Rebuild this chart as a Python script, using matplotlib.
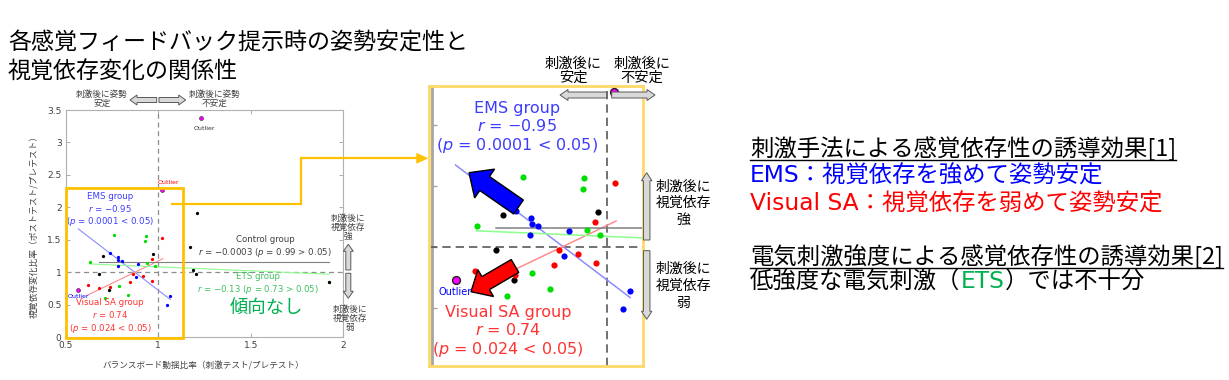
import matplotlib
matplotlib.use('Agg')
import matplotlib.pyplot as plt
from matplotlib.patches import FancyArrow, Rectangle

plt.rcParams['font.family'] = ['DejaVu Sans', 'Noto Sans CJK JP']
plt.rcParams['mathtext.fontset'] = 'dejavusans'

# ---------------- data ----------------
ems_x = [0.740, 0.784, 0.785, 0.802, 0.781, 0.892, 0.878, 1.065, 1.046]
ems_y = [1.294, 1.237, 1.188, 1.171, 1.094, 1.127, 0.926, 0.636, 0.493]

vsa_x = [1.022, 0.966, 0.862, 0.916, 0.968, 0.849, 0.622, 0.680, 0.738]
vsa_y = [1.524, 1.201, 0.975, 0.939, 0.867, 0.847, 0.800, 0.764, 0.770]

ets_x = [0.760, 0.934, 0.930, 0.630, 0.942, 0.980, 0.786, 0.838, 0.715, 1.924]
ets_y = [1.572, 1.565, 1.476, 1.167, 1.138, 1.094, 0.786, 0.652, 0.599, 0.857]

ctrl_x = [1.208, 1.170, 1.188, 1.206, 1.924, 0.974, 0.702, 0.682, 0.734]
ctrl_y = [1.914, 1.385, 1.031, 0.970, 0.857, 1.283, 1.257, 0.970, 0.723]

outlier_x = [1.229, 1.019, 0.568]
outlier_y = [3.381, 2.268, 0.723]

# regression line end points
ems_fit_x = [0.568, 1.065]
ems_fit_y = [1.669, 0.583]
vsa_fit_x = [0.615, 1.025]
vsa_fit_y = [0.645, 1.210]
ctrl_fit_x = [0.682, 1.924]
ctrl_fit_y = [1.155, 1.155]
ets_fit_x = [0.628, 1.924]
ets_fit_y = [1.130, 0.972]

x_ticks = [0.5, 1, 1.5, 2]
y_ticks = [0, 0.5, 1, 1.5, 2, 2.5, 3, 3.5]
zoom_ticks = [0.5, 1, 1.5, 2]

# ---------------- colours ----------------
C_BLUE = '#0000ff'
C_RED = '#ff0000'
C_GREEN = '#00dd00'
C_MAG = '#ff00ff'
C_ORANGE = '#FFC000'
C_ORANGE_L = '#FFD966'
C_EMS_T = '#3c3cff'
C_VSA_T = '#ff3333'
C_ETS_T = '#40c060'
C_CTRL_T = '#404040'
C_NOTREND = '#00b050'

W, H = 1229, 380
fig = plt.figure(figsize=(W / 100, H / 100), dpi=100)


def px_axes(l, t, r, b, **kw):
    return fig.add_axes([l / W, 1 - b / H, (r - l) / W, (b - t) / H], **kw)


def draw_data(ax, s, s_out, lw_fit, lw_out):
    ax.plot(ems_fit_x, ems_fit_y, color='#8c8cff', lw=lw_fit, zorder=2)
    ax.plot(vsa_fit_x, vsa_fit_y, color='#ff8c8c', lw=lw_fit, zorder=2)
    ax.plot(ctrl_fit_x, ctrl_fit_y, color='#808080', lw=lw_fit, zorder=2)
    ax.plot(ets_fit_x, ets_fit_y, color='#8cff8c', lw=lw_fit, zorder=2)
    ax.scatter(ets_x, ets_y, s=s, color=C_GREEN, lw=0, zorder=3)
    ax.scatter(ctrl_x, ctrl_y, s=s, color='black', lw=0, zorder=3)
    ax.scatter(vsa_x, vsa_y, s=s, color=C_RED, lw=0, zorder=3)
    ax.scatter(ems_x, ems_y, s=s, color=C_BLUE, lw=0, zorder=3)
    ax.scatter(outlier_x, outlier_y, s=s_out, color=C_MAG, edgecolors='#202020',
               lw=lw_out, zorder=4)


# ---------------- left chart ----------------
ax1 = px_axes(65.7, 110, 343.3, 337.3)
ax1.set_xlim(0.5, 2)
ax1.set_ylim(0, 3.5)
ax1.set_xticks(x_ticks)
ax1.set_xticklabels(['0.5', '1', '1.5', '2'])
ax1.set_yticks(y_ticks)
ax1.set_yticklabels(['0', '0.5', '1', '1.5', '2', '2.5', '3', '3.5'])
ax1.tick_params(direction='in', length=3, width=0.6, color='#a0a0a0',
                labelsize=6.5, labelcolor='#404040', top=True, right=True, pad=3)
for sp in ax1.spines.values():
    sp.set_color('#b0b0b0')
    sp.set_linewidth(0.8)
ax1.axvline(1, color='#8c8c8c', lw=0.9, ls=(0, (4, 3)), zorder=1)
ax1.axhline(1, color='#8c8c8c', lw=0.9, ls=(0, (4, 3)), zorder=1)
draw_data(ax1, 5.5, 8, 0.8, 0.4)

ax1.text(0.739, 1.96, 'EMS group\n$r$ = −0.95\n($p$ = 0.0001 < 0.05)', color=C_EMS_T,
         fontsize=6.2, ha='center', va='center', multialignment='center')
ax1.text(0.739, 0.32, 'Visual SA group\n$r$ = 0.74\n($p$ = 0.024 < 0.05)', color=C_VSA_T,
         fontsize=6.2, ha='center', va='center', multialignment='center')
ax1.text(1.577, 1.39, 'Control group\n$r$ = −0.0003 ($p$ = 0.99 > 0.05)', color=C_CTRL_T,
         fontsize=6.2, ha='center', va='center', multialignment='center')
ax1.text(1.540, 0.817, 'ETS group\n$r$ = −0.13 ($p$ = 0.73 > 0.05)', color=C_ETS_T,
         fontsize=6.2, ha='center', va='center', multialignment='center')
ax1.text(1.586, 0.447, '傾向なし', color=C_NOTREND, fontsize=13.2, ha='center', va='center',
         family=['Noto Sans CJK JP'])
ax1.text(0.568, 0.626, 'Outlier', color=C_BLUE, fontsize=4.5, ha='center', va='center')
ax1.text(1.054, 2.39, 'Outlier', color=C_RED, fontsize=4.5, ha='center', va='center')
ax1.text(1.247, 3.22, 'Outlier', color='#303030', fontsize=4.5, ha='center', va='center')

# ---------------- right (zoomed) chart ----------------
ax2 = px_axes(429, 86, 642.7, 366)
ax2.set_xlim(0.4923, 1.1008)
ax2.set_ylim(0.022, 2.317)
ax2.set_xticks([])
ax2.set_yticks([])
for sp in ax2.spines.values():
    sp.set_color(C_ORANGE_L)
    sp.set_linewidth(2)
ax2.axvline(0.5, color='#a6a6a6', lw=2, zorder=1)
ax2.hlines(zoom_ticks, 0.5, 0.516, color='#a6a6a6', lw=1, zorder=1)
ax2.axvline(1, color='#595959', lw=1.2, ls=(0, (5, 3)), zorder=1)
ax2.axhline(1, color='#595959', lw=1.2, ls=(0, (5, 3)), zorder=1)
draw_data(ax2, 20, 32, 1.1, 1.0)
ax2.text(0.742, 1.973, 'EMS group\n$r$ = −0.95\n($p$ = 0.0001 < 0.05)', color=C_EMS_T,
         fontsize=11.5, ha='center', va='center', multialignment='center', linespacing=1.15)
ax2.text(0.717, 0.303, 'Visual SA group\n$r$ = 0.74\n($p$ = 0.024 < 0.05)', color=C_VSA_T,
         fontsize=11.5, ha='center', va='center', multialignment='center', linespacing=1.15)
ax2.text(0.566, 0.631, 'Outlier', color=C_BLUE, fontsize=7, ha='center', va='center')

# ---------------- overlay (pixel coordinates) ----------------
ov = fig.add_axes([0, 0, 1, 1], zorder=10)
ov.set_xlim(0, W)
ov.set_ylim(H, 0)
ov.axis('off')
ov.patch.set_alpha(0)

CJK = ['Noto Sans CJK JP']
MIX = ['DejaVu Sans', 'Noto Sans CJK JP']

# title
ov.text(8, 43, '各感覚フィードバック提示時の姿勢安定性と', fontsize=16.6, va='center',
        ha='left', family=CJK)
ov.text(8, 72, '視覚依存変化の関係性', fontsize=16.6, va='center', ha='left', family=CJK)

# axis labels of left chart
ov.text(203, 366, 'バランスボード動揺比率（刺激テスト/プレテスト）', fontsize=6.2,
        color='#404040', ha='center', va='center', family=CJK)
ov.text(35, 224, '視覚依存変化比率（ポストテスト/プレテスト）', fontsize=6.3,
        color='#404040', ha='center', va='center', rotation=90, family=CJK)


def gray_arrow(x0, y0, x1, y1, body, head, hlen):
    ov.add_patch(FancyArrow(x0, y0, x1 - x0, y1 - y0, width=body, head_width=head,
                            head_length=hlen, length_includes_head=True,
                            fc='#d9d9d9', ec='#595959', lw=0.7, zorder=5))


# left chart helpers
ov.text(101.7, 99, '刺激後に姿勢\n安定', fontsize=6.2, color='#404040', ha='center',
        va='center', family=CJK, linespacing=1.0)
ov.text(215, 99, '刺激後に姿勢\n不安定', fontsize=6.2, color='#404040', ha='center',
        va='center', family=CJK, linespacing=1.0)
gray_arrow(156.7, 100, 130, 100, 5, 10, 7)
gray_arrow(159, 100, 185.7, 100, 5, 10, 7)
ov.text(348.3, 227.5, '刺激後に\n視覚依存\n強', fontsize=6.2, color='#404040', ha='center',
        va='center', family=CJK, linespacing=1.0)
ov.text(350, 318.5, '刺激後に\n視覚依存\n弱', fontsize=6.2, color='#404040', ha='center',
        va='center', family=CJK, linespacing=1.0)
gray_arrow(348.3, 270, 348.3, 244.3, 5, 10, 7)
gray_arrow(348.3, 273.3, 348.3, 298.3, 5, 10, 7)

# orange box and connector
ov.add_patch(Rectangle((65.7, 187.7), 117, 150.6, fill=False, ec=C_ORANGE, lw=2, zorder=6))
ov.plot([172.3, 300.7, 300.7, 418], [204.3, 204.3, 158.3, 158.3], color=C_ORANGE, lw=1.6,
        solid_joinstyle='miter', zorder=6)
ov.add_patch(FancyArrow(415, 158.3, 13.3, 0, width=1.6, head_width=11, head_length=12,
                        length_includes_head=True, fc=C_ORANGE, ec='none', zorder=6))

# right chart helpers
ov.text(573, 71, '刺激後に\n安定', fontsize=10.3, ha='center', va='center', family=CJK,
        linespacing=1.0)
ov.text(641.7, 71, '刺激後に\n不安定', fontsize=10.3, ha='center', va='center', family=CJK,
        linespacing=1.0)
gray_arrow(606.7, 95, 560, 95, 6, 11, 8)
gray_arrow(611.7, 95, 655, 95, 6, 11, 8)
gray_arrow(646.7, 240, 646.7, 172.7, 6.5, 10.5, 8)
gray_arrow(646.7, 250.7, 646.7, 319.3, 6.5, 10.5, 8)
ov.text(683.3, 203.3, '刺激後に\n視覚依存\n強', fontsize=10, ha='center', va='center',
        family=CJK, linespacing=1.25)
ov.text(683.3, 286, '刺激後に\n視覚依存\n弱', fontsize=10, ha='center', va='center',
        family=CJK, linespacing=1.25)

# big arrows in zoomed chart
ov.add_patch(FancyArrow(518.5, 207, 469 - 518.5, 172.7 - 207, width=17, head_width=35,
                        head_length=19, length_includes_head=True, fc=C_BLUE, ec='black',
                        lw=1, zorder=7))
ov.add_patch(FancyArrow(515, 266, 471 - 515, 291.7 - 266, width=15, head_width=31,
                        head_length=17, length_includes_head=True, fc=C_RED, ec='black',
                        lw=1, zorder=7))

# right text block
FS = 16.8
h1 = ov.text(750, 148.3, '刺激手法による感覚依存性の誘導効果[1]', fontsize=FS, ha='left',
             va='center', family=CJK)
ov.text(750, 175.7, 'EMS：視覚依存を強めて姿勢安定', fontsize=FS, ha='left', va='center',
        family=MIX, color=C_BLUE)
ov.text(750, 204, 'Visual SA：視覚依存を弱めて姿勢安定', fontsize=FS, ha='left', va='center',
        family=MIX, color=C_RED)
h2 = ov.text(750, 256.5, '電気刺激強度による感覚依存性の誘導効果[2]', fontsize=FS, ha='left',
             va='center', family=CJK)

fig.canvas.draw()
r = fig.canvas.get_renderer()
for t, yu in ((h1, 159.5), (h2, 268.3)):
    bb = t.get_window_extent(r)
    ov.plot([bb.x0, bb.x1], [yu, yu], color='black', lw=1.0, zorder=6)

parts = [('低強度な電気刺激（', 'black', CJK), ('ETS', C_NOTREND, MIX),
         ('）では不十分', 'black', CJK)]
x = 750
for s, c, fam in parts:
    t = ov.text(x, 288.5, s, fontsize=FS, ha='left', va='baseline', family=fam, color=c)
    fig.canvas.draw()
    x = t.get_window_extent(r).x1 + 0.5

fig.savefig('out.png', dpi=100)
